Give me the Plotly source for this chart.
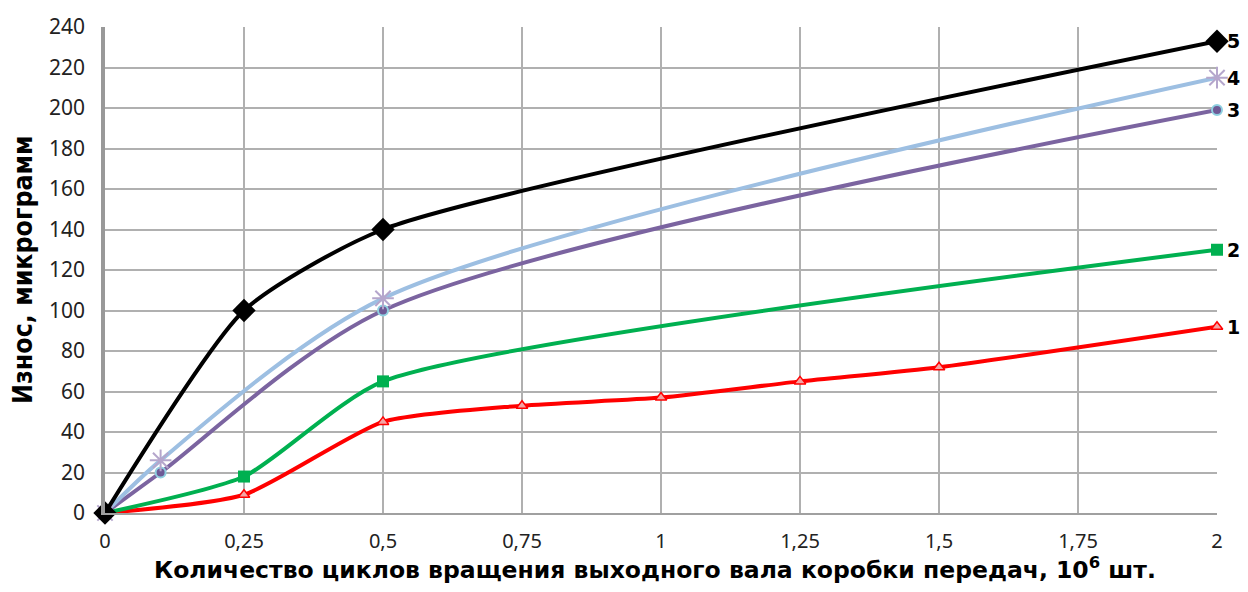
import plotly.graph_objects as go

x1 = [0, 0.25, 0.5, 0.75, 1, 1.25, 1.5, 2]
y1 = [0, 9, 45, 53, 57, 65, 72, 92]
x2 = [0, 0.25, 0.5, 2]
y2 = [0, 18, 65, 130]
x3 = [0, 0.1, 0.5, 2]
y3 = [0, 20, 100, 199]
x4 = [0, 0.1, 0.5, 2]
y4 = [0, 26, 106, 215]
x5 = [0, 0.25, 0.5, 2]
y5 = [0, 100, 140, 233]
labels = ["1", "2", "3", "4", "5"]

xticks = [0, 0.25, 0.5, 0.75, 1, 1.25, 1.5, 1.75, 2]
xticktext = ["0", "0,25", "0,5", "0,75", "1", "1,25", "1,5", "1,75", "2"]

TICKFONT = "Noto Sans, sans-serif"
TITLEFONT = "DejaVu Sans Condensed, DejaVu Sans, sans-serif"

series = [
    (x1, y1, "#ff0000", 0.6, dict(symbol="triangle-up", size=10, color="#f4a3a3", line=dict(color="#ff0000", width=1.5))),
    (x2, y2, "#00b050", 0.6, dict(symbol="square", size=12, color="#00b050", line=dict(width=0))),
    (x3, y3, "#7b64a0", 0.8, dict(symbol="circle", size=10, color="#6e5a96", line=dict(color="#8fd0e0", width=2))),
    (x4, y4, "#9dbfe2", 0.8, dict(symbol="asterisk-open", size=18, color="#b5a6cc", line=dict(color="#b5a6cc", width=2))),
    (x5, y5, "#000000", 0.6, dict(symbol="diamond", size=18, color="#000000", line=dict(width=0))),
]

fig = go.Figure()
for xs, ys, col, sm, mk in series:
    fig.add_trace(go.Scatter(
        x=xs, y=ys, mode="lines+markers",
        line=dict(color=col, width=4, shape="spline", smoothing=sm),
        marker=mk, cliponaxis=False, showlegend=False,
    ))

ends = [y1[-1], y2[-1], y3[-1], y4[-1], y5[-1]]
for lab, yv in zip(labels, ends):
    fig.add_annotation(x=2, y=yv, text="<b>" + lab + "</b>", showarrow=False,
                       xanchor="left", xshift=8, font=dict(size=19, color="#000", family="DejaVu Sans, sans-serif"))

# axis titles as annotations for exact placement
fig.add_annotation(x=0.4946, y=0, xref="paper", yref="paper", yanchor="middle", yshift=-55,
                   text="<b>Количество циклов вращения выходного вала коробки передач, 10<sup>6</sup> шт.</b>",
                   showarrow=False, font=dict(size=23.5, family="DejaVu Sans, sans-serif", color="#000"))
fig.add_annotation(x=0, y=0.5, xref="paper", yref="paper", xanchor="center", xshift=-83,
                   text="<b>Износ, микрограмм</b>", textangle=-90,
                   showarrow=False, font=dict(size=26.5, family=TITLEFONT, color="#000"))

fig.update_layout(
    width=1232, height=576,
    margin=dict(l=97, r=23, t=19, b=71),
    plot_bgcolor="white", paper_bgcolor="white",
    font=dict(family=TICKFONT, color="#000"),
)
fig.update_xaxes(
    range=[0, 2], tickvals=xticks, ticktext=xticktext, automargin=False,
    showgrid=True, gridcolor="#b0b0b0", gridwidth=1.5,
    showline=True, linecolor="#a0a0a0", linewidth=2,
    zeroline=False, tickfont=dict(size=20, family=TICKFONT, color="#222"), ticks="",
    ticklabelstandoff=9,
)
fig.update_yaxes(
    range=[0, 240], dtick=20, automargin=False,
    showgrid=True, gridcolor="#b0b0b0", gridwidth=1.5,
    showline=True, linecolor="#999999", linewidth=3.5,
    zeroline=False, tickfont=dict(size=21, family=TICKFONT, color="#222"), ticks="",
    ticklabelstandoff=12,
)

fig.write_html("out.html")
